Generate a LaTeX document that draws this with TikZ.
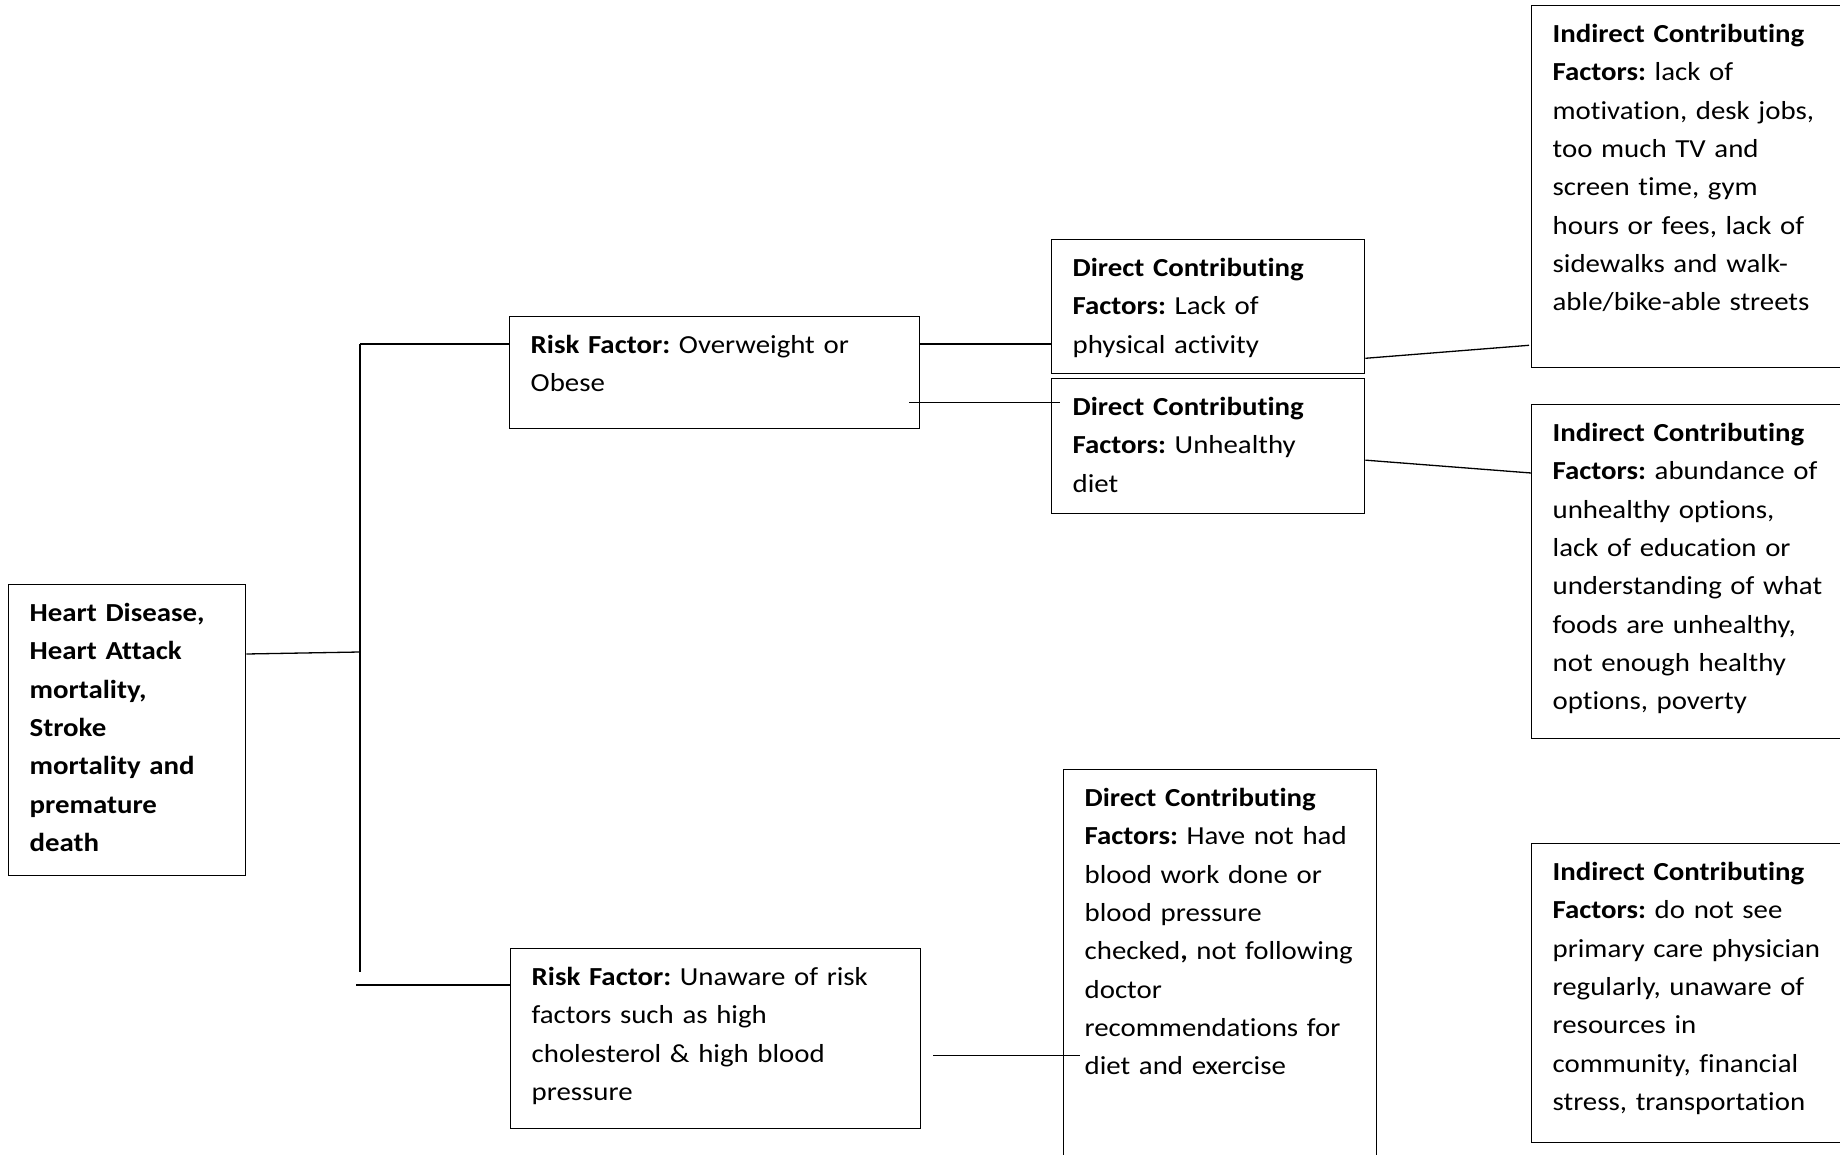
\documentclass[tikz,border=0pt]{standalone}
\usepackage{fontspec}
\setmainfont{Carlito}[FakeStretch=1.11,Ligatures=NoCommon]
\usetikzlibrary{calc}
\frenchspacing

\begin{document}
\begin{tikzpicture}[x=1pt,y=-1pt,line width=1.3pt,
  fbox/.style={draw,anchor=north west,align=left,inner xsep=21pt,inner ysep=0pt,
    text height=37pt,font=\fontsize{26}{38.3}\selectfont}]
  \useasboundingbox (0,0) rectangle (1840,1155);
  \clip (0,0) rectangle (1840,1155);
  % outcome and risk factors
  \node[fbox,text width=195pt,text depth=254pt] (outc) at (8,584)
    {\textbf{Heart Disease,}\\\textbf{Heart Attack}\\\textbf{mortality,}\\\textbf{Stroke}\\\textbf{mortality and}\\\textbf{premature}\\\textbf{death}};
  \node[fbox,text width=368pt,text depth=75pt] (rsk1) at (509,316)
    {\textbf{Risk Factor:} Overweight or\\Obese};
  \node[fbox,text width=368pt,text depth=143pt] (rsk2) at (510,948)
    {\textbf{Risk Factor:} Unaware of risk\\factors such as high\\cholesterol \& high blood\\pressure};
  % direct factors
  \node[fbox,text width=271pt,text depth=97pt] (dir1) at (1051,239)
    {\textbf{Direct Contributing}\\\textbf{Factors:} Lack of\\physical activity};
  \node[fbox,text width=271pt,text depth=98pt] (dir2) at (1051,378)
    {\textbf{Direct Contributing}\\\textbf{Factors:} Unhealthy\\diet};
  \node[fbox,text width=271pt,text depth=400pt] (dir3) at (1063,769)
    {\textbf{Direct Contributing}\\\textbf{Factors:} Have not had\\blood work done or\\blood pressure\\checked\textbf{,} not following\\doctor\\recommendations for\\diet and exercise};
  % indirect factors
  \node[fbox,text width=288pt,text depth=325pt] (ind1) at (1531,5)
    {\textbf{Indirect Contributing}\\\textbf{Factors:} lack of\\motivation, desk jobs,\\too much TV and\\screen time, gym\\hours or fees, lack of\\sidewalks and walk-\\able/bike-able streets};
  \node[fbox,text width=288pt,text depth=297pt] (ind2) at (1531,404)
    {\textbf{Indirect Contributing}\\\textbf{Factors:} abundance of\\unhealthy options,\\lack of education or\\understanding of what\\foods are unhealthy,\\not enough healthy\\options, poverty};
  \node[fbox,text width=288pt,text depth=262pt] (ind3) at (1531,843)
    {\textbf{Indirect Contributing}\\\textbf{Factors:} do not see\\primary care physician\\regularly, unaware of\\resources in\\community, financial\\stress, transportation};
  % connectors
  \coordinate (ttop) at (360,344);
  \coordinate (tmid) at (360,652);
  \coordinate (tbot) at (360,972);
  \coordinate (bbr) at (356,985);
  \draw ($(outc.north east)+(0,70)$) -- (tmid);
  \draw (ttop) -- (tbot);
  \draw (ttop) -- (ttop -| rsk1.west);
  \draw (bbr) -- (bbr -| rsk2.west);
  \draw (ttop -| rsk1.east) -- (ttop -| dir1.west);
  \draw ($(rsk1.east)+(-11,30)$) coordinate (r1d2) -- ($(r1d2 -| dir2.west)+(9,0)$);
  \draw ($(rsk2.east)+(12,17)$) coordinate (r2d3) -- ($(r2d3 -| dir3.west)+(17,0)$);
  \draw ($(dir1.south east)+(0,-16)$) -- ($(ind1.south west)+(-2,-23)$);
  \draw ($(dir2.east)+(0,14)$) -- ($(ind2.north west)+(0,69)$);
\end{tikzpicture}
\end{document}
